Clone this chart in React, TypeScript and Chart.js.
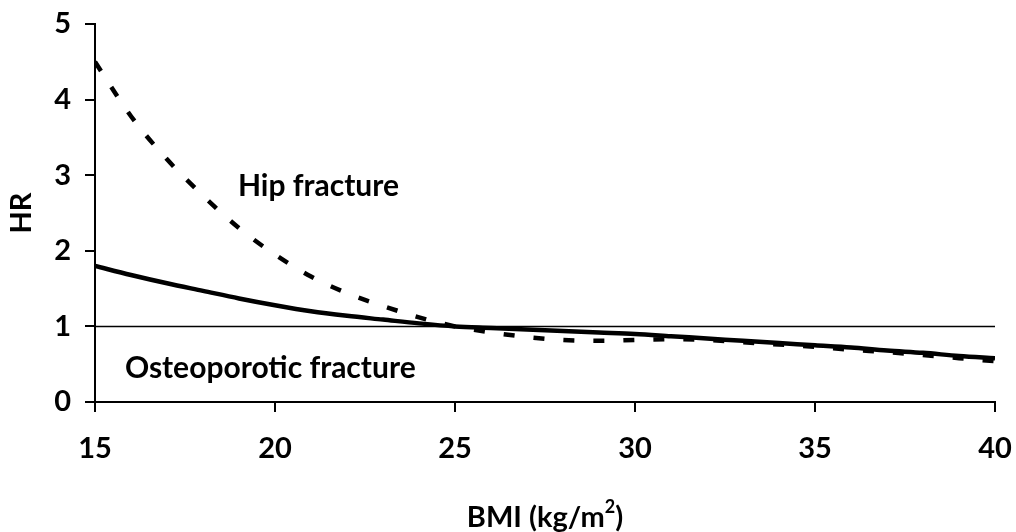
import React, { useEffect, useRef } from "react";
import { Chart, registerables } from "chart.js";

Chart.register(...registerables);

const bmi = [15, 16, 17, 18, 19, 20, 21, 22, 23, 24, 25, 26, 27, 28, 29, 30, 31, 32, 33, 34, 35, 36, 37, 38, 39, 40];
const osteoporoticHR = [1.8, 1.68, 1.57, 1.47, 1.37, 1.28, 1.2, 1.14, 1.09, 1.04, 1.0, 0.98, 0.96, 0.94, 0.92, 0.9, 0.87, 0.84, 0.81, 0.78, 0.75, 0.72, 0.68, 0.65, 0.61, 0.58];
const hipHR = [4.5, 3.78, 3.21, 2.73, 2.3, 1.95, 1.66, 1.44, 1.27, 1.12, 1.0, 0.92, 0.86, 0.82, 0.81, 0.82, 0.83, 0.82, 0.79, 0.76, 0.73, 0.69, 0.66, 0.62, 0.58, 0.54];
const referenceHR = 1;
const xTicks = [15, 20, 25, 30, 35, 40];
const yTicks = [0, 1, 2, 3, 4, 5];
const hipLabel = "Hip fracture";
const osteoLabel = "Osteoporotic fracture";
const xTitle = "BMI (kg/m";
const xTitleSup = "2";
const yTitle = "HR";
// label anchors in data units
const hipLabelPos = { x: 18.97, y: 2.72 };
const osteoLabelPos = { x: 15.83, y: 0.32 };

const FONT = "Lato";

export default function App() {
  const ref = useRef<HTMLCanvasElement | null>(null);
  useEffect(() => {
    const canvas = ref.current!;
    const textPlugin = {
      id: "texts",
      afterDraw(chart: any) {
        const ctx = chart.ctx;
        const xs = chart.scales.x;
        const ys = chart.scales.y;
        ctx.save();
        ctx.fillStyle = "#000";
        ctx.font = `bold 30px ${FONT}`;
        ctx.textBaseline = "alphabetic";
        ctx.textAlign = "left";
        ctx.fillText(hipLabel, xs.getPixelForValue(hipLabelPos.x), ys.getPixelForValue(hipLabelPos.y));
        ctx.fillText(osteoLabel, xs.getPixelForValue(osteoLabelPos.x), ys.getPixelForValue(osteoLabelPos.y));
        // x title
        const cx = (chart.chartArea.left + chart.chartArea.right) / 2;
        ctx.font = `bold 29px ${FONT}`;
        const w1 = ctx.measureText(xTitle).width;
        ctx.font = `bold 18px ${FONT}`;
        const w2 = ctx.measureText(xTitleSup).width;
        ctx.font = `bold 29px ${FONT}`;
        const w3 = ctx.measureText(")").width;
        const total = w1 + w2 + w3;
        const x0 = cx - total / 2;
        const base = 527;
        ctx.fillText(xTitle, x0, base);
        ctx.font = `bold 18px ${FONT}`;
        ctx.fillText(xTitleSup, x0 + w1, base - 14);
        ctx.font = `bold 29px ${FONT}`;
        ctx.fillText(")", x0 + w1 + w2, base);
        // y title
        ctx.translate(22, (chart.chartArea.top + chart.chartArea.bottom) / 2);
        ctx.rotate(-Math.PI / 2);
        ctx.textAlign = "center";
        ctx.textBaseline = "middle";
        ctx.fillText(yTitle, 0, 0);
        ctx.restore();
      },
    };
    const chart = new Chart(canvas, {
      type: "line",
      data: {
        datasets: [
          {
            label: "Osteoporotic fracture",
            data: bmi.map((b, i) => ({ x: b, y: osteoporoticHR[i] })),
            borderColor: "#000",
            borderWidth: 4.5,
            pointRadius: 0,
            cubicInterpolationMode: "monotone",
            order: 1,
          },
          {
            label: "Hip fracture",
            data: bmi.map((b, i) => ({ x: b, y: hipHR[i] })),
            borderColor: "#000",
            borderWidth: 4.5,
            borderDash: [11, 19],
            borderCapStyle: "butt",
            pointRadius: 0,
            cubicInterpolationMode: "monotone",
            order: 2,
          },
          {
            label: "Reference",
            data: [
              { x: bmi[0], y: referenceHR },
              { x: bmi[bmi.length - 1], y: referenceHR },
            ],
            borderColor: "#000",
            borderWidth: 1.5,
            pointRadius: 0,
            order: 3,
          },
        ],
      },
      options: {
        animation: false,
        responsive: false,
        maintainAspectRatio: false,
        layout: { padding: { top: 24, right: 21, left: 0, bottom: 0 } },
        plugins: { legend: { display: false }, tooltip: { enabled: false } },
        scales: {
          x: {
            type: "linear",
            min: 15,
            max: 40,
            afterFit: (s: any) => {
              s.height = 130;
              s.paddingLeft = 0;
              s.paddingRight = 0;
            },
            afterBuildTicks: (s: any) => {
              s.ticks = xTicks.map((v) => ({ value: v }));
            },
            ticks: {
              color: "#000",
              font: { family: FONT, size: 29, weight: "bold" },
              padding: 19,
              maxRotation: 0,
            },
            grid: {
              drawOnChartArea: false,
              drawTicks: true,
              tickLength: 10,
              color: "#000",
              lineWidth: 2,
            },
            border: { display: true, color: "#000", width: 2 },
          },
          y: {
            type: "linear",
            min: 0,
            max: 5,
            afterFit: (s: any) => {
              s.width = 95;
              s.paddingTop = 0;
              s.paddingBottom = 0;
            },
            afterBuildTicks: (s: any) => {
              s.ticks = yTicks.map((v) => ({ value: v }));
            },
            ticks: {
              color: "#000",
              font: { family: FONT, size: 29, weight: "bold" },
              padding: 14,
            },
            grid: {
              drawOnChartArea: false,
              drawTicks: true,
              tickLength: 10,
              color: "#000",
              lineWidth: 2,
            },
            border: { display: true, color: "#000", width: 2 },
          },
        },
      },
      plugins: [textPlugin],
    } as any);
    return () => chart.destroy();
  }, []);
  return (
    <div style={{ position: "fixed", left: 0, top: 0, width: 1016, height: 532, background: "#fff" }}>
      <canvas ref={ref} width={1016} height={532} style={{ width: 1016, height: 532, display: "block" }} />
    </div>
  );
}
